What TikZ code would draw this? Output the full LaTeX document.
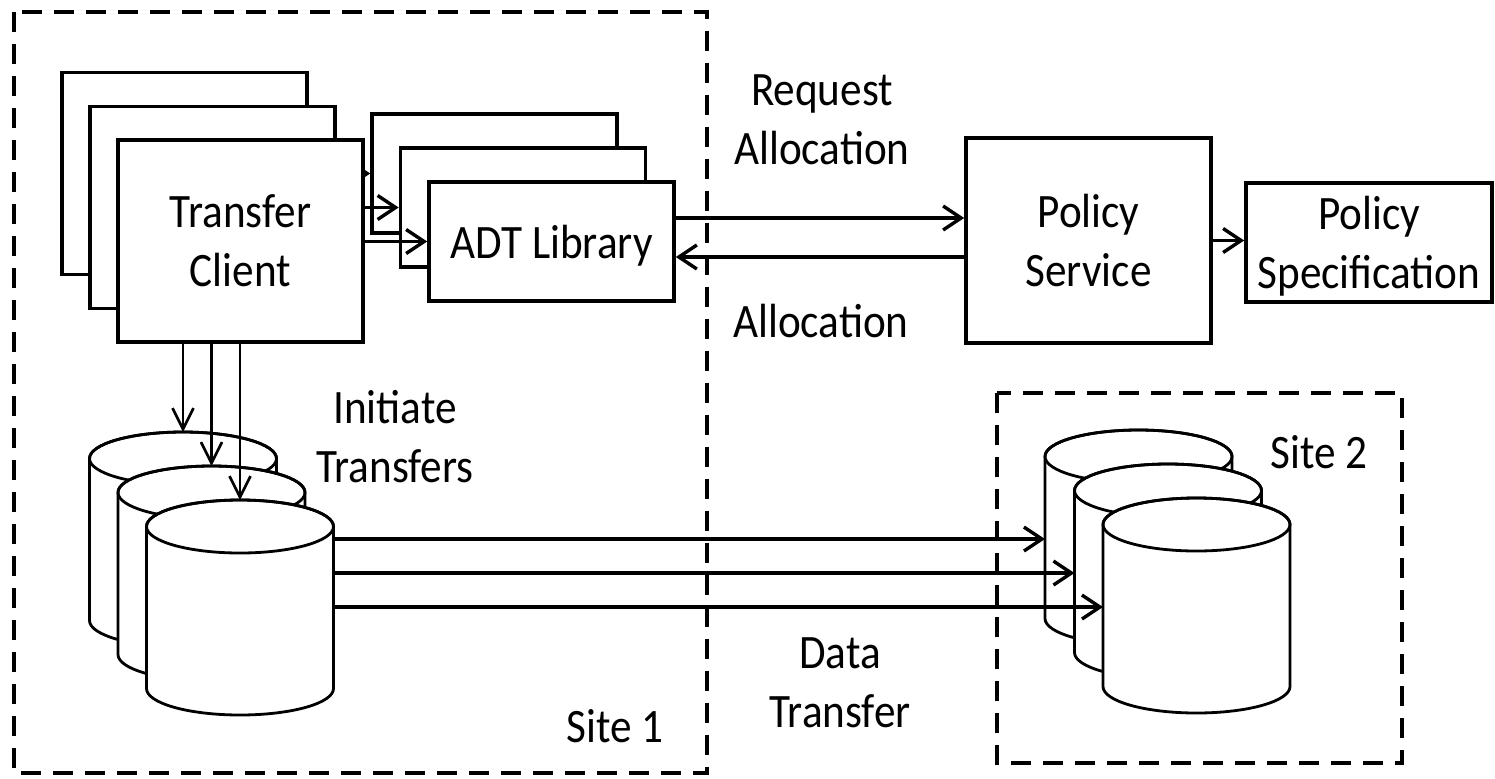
\documentclass[tikz,border=0pt]{standalone}
\usepackage{fontspec}
\setmainfont{Carlito}[FakeStretch=0.9]
\usetikzlibrary{arrows.meta,calc}
\begin{document}
\begin{tikzpicture}[x=0.5pt,y=0.5pt,
  every node/.style={font=\fontsize{24}{29.5}\selectfont},
  blk/.style={draw, line width=1.8pt, fill=white, inner sep=0pt,
    minimum width=122.5pt, minimum height=101pt, align=center, text depth=0pt},
  small/.style={minimum height=59.5pt},
  lbl/.style={align=center, inner sep=0pt},
  arr/.style={line width=1.7pt, -{Straight Barb[length=9pt,width=12pt]}},
  arrv/.style={line width=1.3pt, -{Straight Barb[length=10.5pt,width=10.5pt]}},
  site/.style={draw, line width=1.8pt, dash pattern=on 10pt off 6pt},
  pics/dbcyl/.style={code={
    \filldraw[fill=white, line width=1.4pt]
      (-93.5,0) -- (-93.5,-162)
      arc[start angle=180, end angle=360, x radius=46.75pt, y radius=13.25pt]
      -- (93.5,0)
      arc[start angle=0, end angle=180, x radius=46.75pt, y radius=13.25pt] -- cycle;
    \draw[line width=1.4pt] (0,0) ellipse[x radius=46.75pt, y radius=13.25pt];
    \coordinate (-top) at (0,26.5);
    \coordinate (-e) at (93.5,0);
    \coordinate (-in) at (-93.5,-82.5);
  }}
]
\useasboundingbox (0,0) rectangle (1495,-778);

% site boundaries
\draw[site] (14,-12) rectangle (707,-773);
\draw[site] (997,-393) rectangle (1402,-763);

% stacked transfer clients and their ADT libraries
\node[blk] (tcA) at (184.5,-173.5) {};
\node[blk, small] (adtA) at (494.5,-173.5) {};
\draw[arr] (tcA.east |- adtA.west) -- (adtA.west);
\node[blk] (tcB) at (212.5,-207.5) {};
\node[blk, small] (adtB) at (523,-207.5) {};
\draw[arr] (tcB.east |- adtB.west) -- (adtB.west);
\node[blk] (tcC) at (240.5,-241) {Transfer\\Client};
\node[blk, small] (adtC) at (551.5,-241.5) {ADT Library};
\draw[arr] (tcC.east |- adtC.west) -- (adtC.west);

% policy side
\node[blk, minimum height=102.5pt] (ps) at (1088.5,-240.5) {Policy\\Service};
\node[blk, small, minimum width=123pt] (spec) at (1369,-242.5) {Policy\\Specification};
\draw[arr] (ps.east) -- (ps.east -| spec.west);

\coordinate (rq) at ($(adtC.east)+(0,23.5)$);
\coordinate (al) at ($(ps.west)+(0,-16.5)$);
\draw[arr] (rq) -- (rq -| ps.west);
\draw[arr] (al) -- (al -| adtC.east);

\node[lbl] (req) at (822,-119.5) {Request\\Allocation};
\node[lbl] (alc) at (821,-321.5) {Allocation};

% storage at site 1
\pic (s1a) at (183,-458.5) {dbcyl};
\draw[arrv] (tcC.south -| s1a-top) -- (s1a-top);
\pic (s1b) at (211.5,-492.5) {dbcyl};
\draw[arrv] (tcC.south -| s1b-top) -- (s1b-top);
\pic (s1c) at (240,-526.5) {dbcyl};
\draw[arrv] (tcC.south -| s1c-top) -- (s1c-top);

\node[lbl] (init) at (395,-436.5) {Initiate\\Transfers};
\node[lbl] (s1) at (615,-726.5) {Site 1};

% storage at site 2 with the data transfers
\pic (s2a) at (1138.5,-456.5) {dbcyl};
\draw[arr] (s1c-e |- s2a-in) -- (s2a-in);
\pic (s2b) at (1168,-490.5) {dbcyl};
\draw[arr] (s1c-e |- s2b-in) -- (s2b-in);
\pic (s2c) at (1196.5,-524.5) {dbcyl};
\draw[arr] (s1c-e |- s2c-in) -- (s2c-in);

\node[lbl] (dat) at (840,-682.5) {Data\\Transfer};
\node[lbl] (s2) at (1319,-452.5) {Site 2};
\end{tikzpicture}
\end{document}
